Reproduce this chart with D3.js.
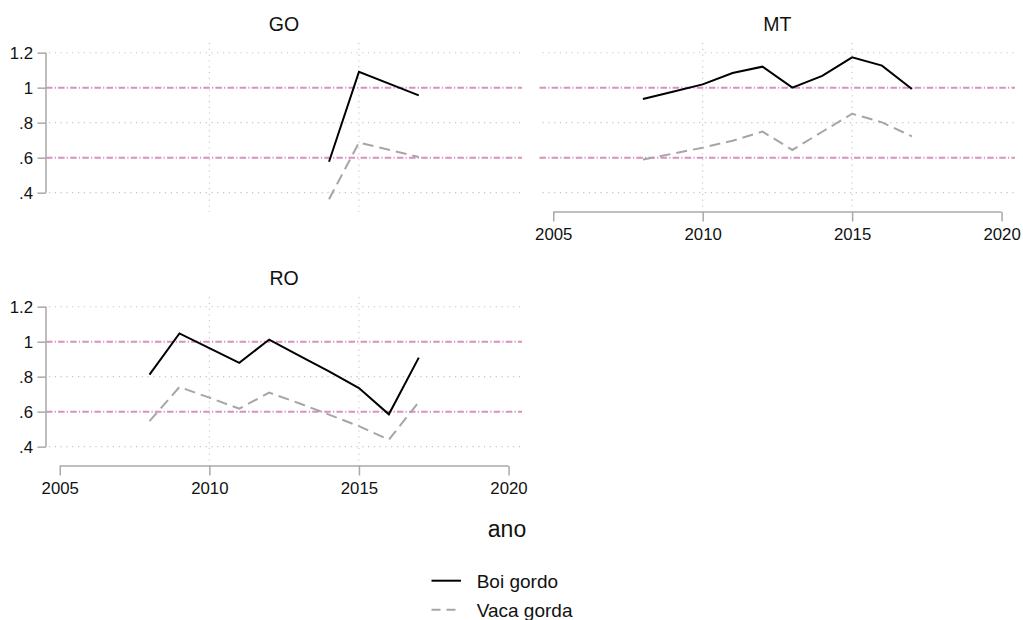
<!DOCTYPE html>
<html>
<head>
<meta charset="utf-8">
<script src="https://cdn.jsdelivr.net/npm/d3@7"></script>
<style>
  html, body { margin: 0; padding: 0; background: #fff; }
  svg { display: block; font-family: "Liberation Sans", Arial, sans-serif; }
</style>
</head>
<body>
<svg id="chart" width="1023" height="620"></svg>
<script>
// Price ratios by state (GO, MT, RO), 2008–2017
const years = [2008, 2009, 2010, 2011, 2012, 2013, 2014, 2015, 2016, 2017];

const goBoi  = [null, null, null, null, null, null, 0.577, 1.090, null, 0.956];
const goVaca = [null, null, null, null, null, null, 0.362, 0.686, null, 0.604];

const mtBoi  = [0.935, 0.977, 1.019, 1.084, 1.120, 1.000, 1.067, 1.173, 1.126, 0.992];
const mtVaca = [0.589, 0.623, 0.657, 0.697, 0.749, 0.644, 0.748, 0.851, 0.802, 0.722];

const roBoi  = [0.812, 1.047, 0.963, 0.879, 1.012, 0.920, 0.830, 0.735, 0.585, 0.909];
const roVaca = [0.546, 0.741, 0.680, 0.617, 0.709, 0.648, 0.583, 0.517, 0.440, 0.655];

const yTicks = [0.4, 0.6, 0.8, 1.0, 1.2];
const yTickLabels = [".4", ".6", ".8", "1", "1.2"];
const xTicks = [2005, 2010, 2015, 2020];
const refLines = [0.6, 1.0];

const seriesNames = ["Boi gordo", "Vaca gorda"];
const xTitle = "ano";

const panels = [
  { name: "GO", col: 0, row: 0, boi: goBoi, vaca: goVaca, showY: true,  showX: false },
  { name: "MT", col: 1, row: 0, boi: mtBoi, vaca: mtVaca, showY: false, showX: true  },
  { name: "RO", col: 0, row: 1, boi: roBoi, vaca: roVaca, showY: true,  showX: true  }
];

// Layout
const colRanges = [[46, 522], [539.5, 1015]];
const rowRanges = [[43, 212], [297, 466]];
const xDomain = [2004.54, 2020.45];
const yDomain = [0.2895, 1.2553];

const styles = {
  boi:  { stroke: "#000000", width: 2,   dash: null },
  vaca: { stroke: "#a6a6a6", width: 2,   dash: "11,6" }
};
const axisColor = "#a9a9a9";
const gridColor = "#c4c4c4";
const refColor = "#d892be";
const tickFont = 16.8;

const svg = d3.select("#chart");

panels.forEach(p => {
  const [x0, x1] = colRanges[p.col];
  const [top, bottom] = rowRanges[p.row];
  const x = d3.scaleLinear().domain(xDomain).range([x0, x1]);
  const y = d3.scaleLinear().domain(yDomain).range([bottom, top]);
  const g = svg.append("g");

  // title
  g.append("text")
    .attr("x", (x0 + x1) / 2).attr("y", top - 12.3)
    .attr("text-anchor", "middle")
    .attr("font-size", 19.5).attr("fill", "#111")
    .text(p.name);

  // horizontal dotted gridlines
  g.selectAll(".hgrid").data(yTicks.filter(v => !refLines.includes(v)))
    .join("line")
    .attr("x1", x0 + 3).attr("x2", x1)
    .attr("y1", d => y(d)).attr("y2", d => y(d))
    .attr("stroke", gridColor).attr("stroke-width", 1.1)
    .attr("stroke-dasharray", "1.2,4.6");

  // vertical dotted gridlines (interior ticks)
  g.selectAll(".vgrid").data(xTicks.slice(1, -1))
    .join("line")
    .attr("x1", d => x(d)).attr("x2", d => x(d))
    .attr("y1", top).attr("y2", bottom)
    .attr("stroke", gridColor).attr("stroke-width", 1.1)
    .attr("stroke-dasharray", "1.2,4.6");

  // reference lines
  g.selectAll(".ref").data(refLines)
    .join("line")
    .attr("x1", x0).attr("x2", x1)
    .attr("y1", d => y(d)).attr("y2", d => y(d))
    .attr("stroke", refColor).attr("stroke-width", 2)
    .attr("stroke-dasharray", "6.5,2.2,1.2,2.2");

  // y axis
  if (p.showY) {
    const yAxis = d3.axisLeft(y)
      .tickValues(yTicks)
      .tickFormat((d, i) => yTickLabels[i])
      .tickSize(8.5).tickSizeOuter(0).tickPadding(4.5);
    const ya = g.append("g").attr("transform", `translate(${x0},0)`).call(yAxis);
    ya.select(".domain").remove();
    ya.append("line")
      .attr("x1", 0).attr("x2", 0)
      .attr("y1", y(yTicks[0])).attr("y2", y(yTicks[yTicks.length - 1]));
    ya.selectAll("line").attr("stroke", axisColor).attr("stroke-width", 1.5);
    ya.selectAll("text")
      .attr("font-size", tickFont).attr("fill", "#111")
      .attr("font-family", "Liberation Sans, Arial, sans-serif");
  }

  // x axis
  if (p.showX) {
    const xAxis = d3.axisBottom(x)
      .tickValues(xTicks)
      .tickFormat(d3.format("d"))
      .tickSize(9.5).tickSizeOuter(0).tickPadding(7);
    const xa = g.append("g").attr("transform", `translate(0,${bottom})`).call(xAxis);
    xa.select(".domain").remove();
    xa.append("line")
      .attr("x1", x(xTicks[0])).attr("x2", x(xTicks[xTicks.length - 1]))
      .attr("y1", 0).attr("y2", 0);
    xa.selectAll("line").attr("stroke", axisColor).attr("stroke-width", 1.5);
    xa.selectAll("text")
      .attr("font-size", tickFont).attr("fill", "#111")
      .attr("font-family", "Liberation Sans, Arial, sans-serif");
  }

  // series lines
  const line = d3.line()
    .x(d => x(d.year)).y(d => y(d.value));
  [["vaca", p.vaca], ["boi", p.boi]].forEach(([key, vals]) => {
    const pts = years.map((yr, i) => ({ year: yr, value: vals[i] }))
      .filter(d => d.value !== null);
    const s = styles[key];
    g.append("path")
      .datum(pts)
      .attr("d", line)
      .attr("fill", "none")
      .attr("stroke", s.stroke)
      .attr("stroke-width", s.width)
      .attr("stroke-linejoin", "miter")
      .attr("stroke-dasharray", s.dash);
  });
});

// shared x title
svg.append("text")
  .attr("x", 507).attr("y", 536.7)
  .attr("text-anchor", "middle")
  .attr("font-size", 23).attr("fill", "#111")
  .text(xTitle);

// legend
const legend = svg.append("g");
const legendKeys = ["boi", "vaca"];
legendKeys.forEach((k, i) => {
  const yy = 580.7 + i * 29;
  const s = styles[k];
  legend.append("line")
    .attr("x1", 431.5).attr("x2", 461)
    .attr("y1", yy).attr("y2", yy)
    .attr("stroke", s.stroke).attr("stroke-width", s.width)
    .attr("stroke-dasharray", k === "vaca" ? "9,6" : null);
  legend.append("text")
    .attr("x", 476.7).attr("y", yy + 7.6)
    .attr("font-size", 19).attr("fill", "#111")
    .text(seriesNames[i]);
});
</script>
</body>
</html>
